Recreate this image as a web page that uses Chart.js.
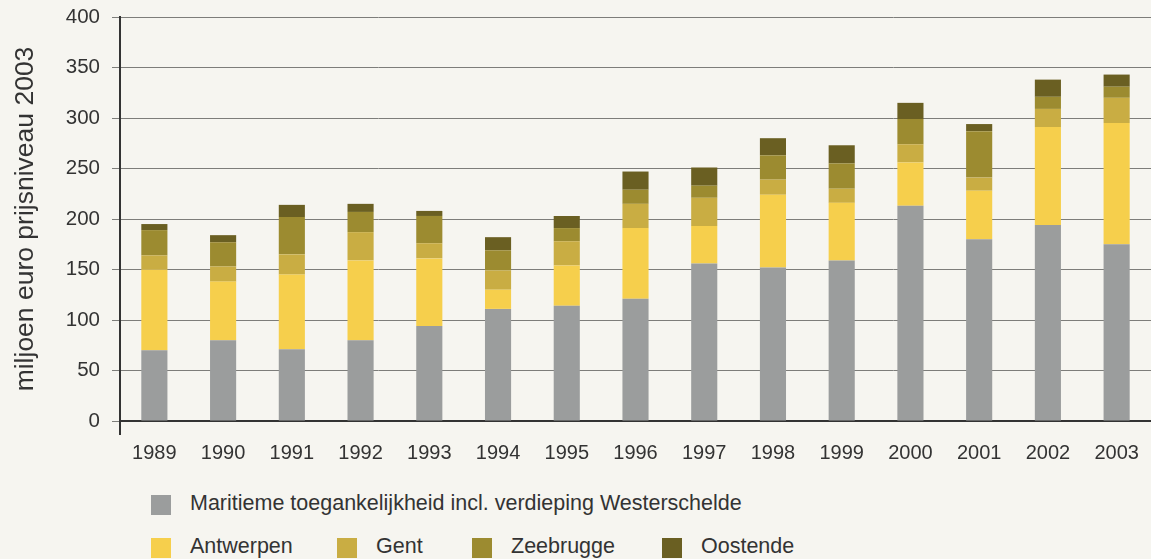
<!DOCTYPE html>
<html>
<head>
<meta charset="utf-8">
<script src="https://cdn.jsdelivr.net/npm/chart.js@4"></script>
<style>
  body { margin: 0; background: #f6f5f0; font-family: "Liberation Sans", Arial, sans-serif; }
  #wrap { position: relative; width: 1151px; height: 559px; }
  #box { position: absolute; left: 0; top: 0; width: 1151px; height: 472px; }
  .leg { position: absolute; font-size: 21.5px; line-height: 20px; color: #333; white-space: nowrap; }
  .leg span.sw { position: absolute; left: 0; top: 0; width: 20px; height: 20px; }
  .leg span.tx { position: absolute; left: 39px; top: -2px; }
</style>
</head>
<body>
<div id="wrap">
  <div id="box"><canvas id="myChart"></canvas></div>
  <div id="legend"></div>
</div>
<script>
// jaren
const jaren = ['1989','1990','1991','1992','1993','1994','1995','1996','1997','1998','1999','2000','2001','2002','2003'];
// waarden in miljoen euro (prijsniveau 2003)
const maritiem  = [70, 80, 71, 80, 94, 111, 114, 121, 156, 152, 159, 213, 180, 194, 175];
const antwerpen = [80, 58, 74, 79, 67, 19, 40, 70, 37, 72, 57, 43, 48, 97, 120];
const gent      = [14, 15, 20, 28, 15, 19, 24, 24, 28, 15, 14, 18, 13, 18, 25];
const zeebrugge = [25, 24, 37, 20, 27, 20, 13, 14, 12, 24, 25, 25, 46, 12, 11];
const oostende  = [6, 7, 12, 8, 5, 13, 12, 18, 18, 17, 18, 16, 7, 17, 12];
const yTicks = [0, 50, 100, 150, 200, 250, 300, 350, 400];

const reeksen = [
  { label: 'Maritieme toegankelijkheid incl. verdieping Westerschelde', data: maritiem, kleur: '#9b9d9d' },
  { label: 'Antwerpen', data: antwerpen, kleur: '#f6cf4c' },
  { label: 'Gent', data: gent, kleur: '#c9ad43' },
  { label: 'Zeebrugge', data: zeebrugge, kleur: '#9c8b30' },
  { label: 'Oostende', data: oostende, kleur: '#6a5f22' }
];

const ctx = document.getElementById('myChart');
new Chart(ctx, {
  type: 'bar',
  data: {
    labels: jaren,
    datasets: reeksen.map(r => ({
      label: r.label,
      data: r.data,
      backgroundColor: r.kleur,
      borderWidth: 0,
      barPercentage: 0.38,
      categoryPercentage: 1
    }))
  },
  options: {
    responsive: true,
    maintainAspectRatio: false,
    animation: false,
    layout: { padding: { top: 17, right: 0, left: 0, bottom: 0 } },
    plugins: { legend: { display: false }, tooltip: { enabled: false } },
    scales: {
      x: {
        stacked: true,
        grid: {
          offset: true,
          drawOnChartArea: false,
          tickLength: 14,
          lineWidth: 2,
          color: c => c.index === 0 ? '#333' : 'rgba(0,0,0,0)'
        },
        border: { display: true, color: '#333', width: 2 },
        ticks: { color: '#333', font: { family: 'Liberation Sans', size: 20 }, padding: 6 },
        afterFit: s => { s.height = 51; s.paddingLeft = 0; s.paddingRight = 0; }
      },
      y: {
        stacked: true,
        min: 0,
        max: 400,
        afterBuildTicks: s => { s.ticks = yTicks.map(v => ({ value: v })); },
        grid: { color: '#7d7d7a', lineWidth: 1, tickLength: 8 },
        border: { display: true, color: '#333', width: 2 },
        ticks: { color: '#333', font: { family: 'Liberation Sans', size: 20.5 }, padding: 12 },
        title: {
          display: true,
          text: 'miljoen euro prijsniveau 2003',
          color: '#333',
          font: { family: 'Liberation Sans', size: 26.5, weight: 'normal' },
          padding: { top: 10, bottom: 0 }
        },
        afterFit: s => { s.width = 120; s.paddingTop = 0; s.paddingBottom = 0; }
      }
    }
  }
});

// legenda onder de grafiek
const posities = [
  { x: 151, y: 495 },
  { x: 151, y: 538 },
  { x: 337, y: 538 },
  { x: 472, y: 538 },
  { x: 662, y: 538 }
];
const legend = document.getElementById('legend');
reeksen.forEach((r, i) => {
  const d = document.createElement('div');
  d.className = 'leg';
  d.style.left = posities[i].x + 'px';
  d.style.top = posities[i].y + 'px';
  d.innerHTML = '<span class="sw" style="background:' + r.kleur + '"></span><span class="tx">' + r.label + '</span>';
  legend.appendChild(d);
});
</script>
</body>
</html>
